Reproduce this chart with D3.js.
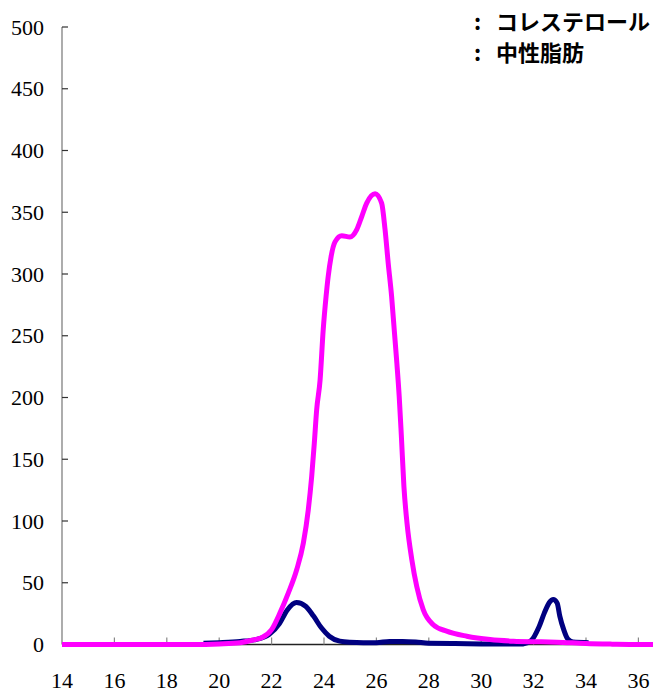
<!DOCTYPE html>
<html>
<head>
<meta charset="utf-8">
<script src="https://cdn.jsdelivr.net/npm/d3@7"></script>
<style>
  body { margin: 0; background: #fff; overflow: hidden; }
</style>
</head>
<body>
<svg id="chart" width="653" height="693"></svg>
<script>
// series names (legend order)
const seriesNames = ['コレステロール', '中性脂肪'];

// cholesterol (navy)
const cholTime = [19.4, 20.0, 20.8, 21.4, 21.9, 22.3, 22.6, 22.95, 23.3, 23.6, 23.9, 24.2, 24.6, 25.0, 25.5,
  26.0, 26.5, 27.0, 27.5, 28.0, 29.0, 30.0, 31.0, 31.6, 31.9, 32.2, 32.4, 32.6, 32.75, 32.9, 33.0, 33.15,
  33.3, 33.5, 34.1];
const cholValue = [1, 1.5, 2.5, 4, 8, 17, 28, 34, 31, 23, 13.5, 6.7, 2.7, 1.8, 1.5,
  1.5, 2.5, 2.5, 2, 1, 0.8, 0.5, 0.4, 0.5, 3, 14, 25, 34, 36.5, 33.5, 23, 12,
  4.5, 2, 1.5];

// triglyceride (magenta)
const tgTime = [14, 19.0, 20.0, 20.8, 21.37, 21.62, 22.0, 22.32, 22.64, 22.96, 23.21, 23.40, 23.53, 23.63,
  23.72, 23.85, 23.97, 24.08, 24.16, 24.27, 24.42, 24.68, 24.99, 25.25, 25.44, 25.63, 25.95, 26.20, 26.33,
  26.45, 26.58, 26.68, 26.78, 26.87, 26.95, 27.05, 27.17, 27.35, 27.54, 27.79, 28.17, 28.68, 29.45, 30.34,
  31.23, 32.24, 32.88, 34.0, 35.0, 36.0, 37.0];
const tgValue = [0, 0, 0.5, 1.5, 4, 5.4, 12, 25.6, 41.8, 60.7, 82, 109, 136, 163,
  190, 214, 255, 282, 298, 314, 326, 331, 330, 336, 346.5, 357.4, 365, 357.4, 336,
  309, 282, 255, 228, 201, 170, 128, 98, 69, 47, 28, 16, 10.8, 6.7, 4,
  2.7, 2.2, 1.9, 0.8, 0.3, 0, 0];

// axis ticks
const xTicks = [14, 16, 18, 20, 22, 24, 26, 28, 30, 32, 34, 36];
const yTicks = [0, 50, 100, 150, 200, 250, 300, 350, 400, 450, 500];

const serif = '"Liberation Serif"';
const gothic = '"Noto Sans CJK JP"';

const svg = d3.select('#chart');
const margin = {top: 27, left: 62};
const plotBottom = 644.5;

const x = d3.scaleLinear().domain([14, 37]).range([margin.left, margin.left + 23 * 26.2]);
const y = d3.scaleLinear().domain([0, 500]).range([plotBottom, margin.top]);

// y axis: gray line, ticks pointing inside
const yAxis = svg.append('g');
yAxis.append('line')
    .attr('x1', x(14)).attr('x2', x(14))
    .attr('y1', y(500)).attr('y2', y(0))
    .attr('stroke', '#808080').attr('stroke-width', 1.3);
yAxis.selectAll('.ytick').data(yTicks.slice(1)).enter().append('line')
    .attr('x1', x(14)).attr('x2', x(14) + 6)
    .attr('y1', d => y(d)).attr('y2', d => y(d))
    .attr('stroke', '#333').attr('stroke-width', 1.2);
yAxis.selectAll('.ylabel').data(yTicks).enter().append('text')
    .attr('x', 44)
    .attr('y', d => y(d))
    .attr('dy', '0.35em')
    .attr('text-anchor', 'end')
    .style('font-family', serif)
    .style('font-size', '22px')
    .text(d => d);

// x axis: dark line at zero, ticks pointing up
const xAxis = svg.append('g');
xAxis.append('line')
    .attr('x1', x(14)).attr('x2', x(37))
    .attr('y1', y(0)).attr('y2', y(0))
    .attr('stroke', '#222').attr('stroke-width', 1.3);
xAxis.selectAll('.xtick').data(xTicks.slice(1)).enter().append('line')
    .attr('x1', d => x(d)).attr('x2', d => x(d))
    .attr('y1', y(0)).attr('y2', y(0) - 7)
    .attr('stroke', '#888').attr('stroke-width', 1.2);
xAxis.selectAll('.xlabel').data(xTicks).enter().append('text')
    .attr('x', d => x(d))
    .attr('y', 688)
    .attr('text-anchor', 'middle')
    .style('font-family', serif)
    .style('font-size', '22px')
    .text(d => d);

const line = d3.line()
    .x(d => x(d[0]))
    .y(d => y(d[1]))
    .curve(d3.curveMonotoneX);

svg.append('path')
    .datum(d3.zip(cholTime, cholValue))
    .attr('d', line)
    .attr('fill', 'none')
    .attr('stroke', '#000080')
    .attr('stroke-width', 5)
    .attr('stroke-linejoin', 'round');

svg.append('path')
    .datum(d3.zip(tgTime, tgValue))
    .attr('d', line)
    .attr('fill', 'none')
    .attr('stroke', '#ff00ff')
    .attr('stroke-width', 5)
    .attr('stroke-linejoin', 'round');

// legend (text only)
const legend = svg.append('g');
seriesNames.forEach((name, i) => {
  const ly = 22 + i * 31;
  legend.append('text')
      .attr('x', 474).attr('y', ly)
      .attr('dy', '0.35em')
      .style('font-family', gothic)
      .style('font-weight', 'bold')
      .style('font-size', '22px')
      .text(':');
  legend.append('text')
      .attr('x', 496).attr('y', ly)
      .attr('dy', '0.35em')
      .style('font-family', gothic)
      .style('font-weight', 'bold')
      .style('font-size', '22px')
      .text(name);
});
</script>
</body>
</html>
